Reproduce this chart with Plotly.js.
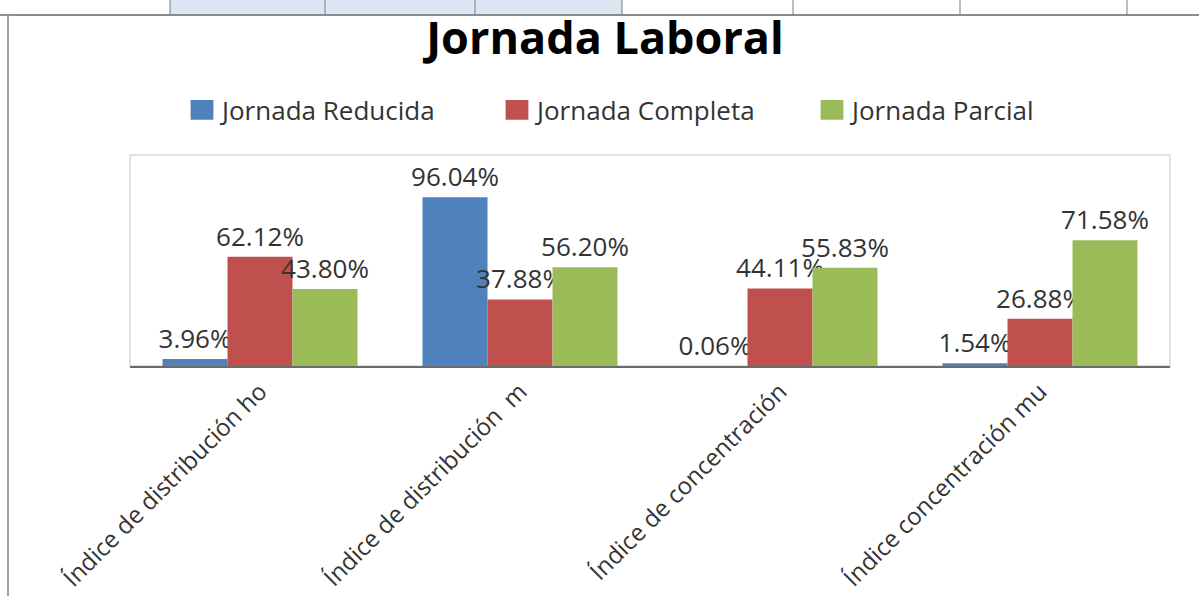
<!DOCTYPE html>
<html>
<head>
<meta charset="utf-8">
<script src="https://cdn.plot.ly/plotly-3.0.1.min.js"></script>
<style>html,body{margin:0;padding:0;background:#fff;}#chart{width:1199px;height:596px;}</style>
</head>
<body>
<div id="chart"></div>
<script>
const categories = ["Índice de distribución ho", "Índice de distribución  m", "Índice de concentración", "Índice concentración mu"];
const seriesNames = ["Jornada Reducida", "Jornada Completa", "Jornada Parcial"];
const reducida = [3.96, 96.04, 0.06, 1.54];
const completa = [62.12, 37.88, 44.11, 26.88];
const parcial = [43.80, 56.20, 55.83, 71.58];
const colors = ["#4F81BD", "#C0504D", "#9BBB59"];

const FONT = "Open Sans, sans-serif";
const values = [reducida, completa, parcial];
const traces = values.map((v, i) => ({
  type: "bar",
  name: seriesNames[i],
  x: categories,
  y: v,
  marker: {color: colors[i]},
  text: v.map(d => d.toFixed(2) + "%"),
  texttemplate: "%{text}",
  textposition: "outside",
  constraintext: "none",
  cliponaxis: false,
  textfont: {family: FONT, size: 26, color: "#333333"},
  hoverinfo: "x+y"
}));

// plot-area geometry (px) used only to place decorative frame shapes
const L = 130, R = 29, T = 155, B = 230, W = 1199, H = 596;
const PW = W - L - R, PH = H - T - B;
const px = x => (x - L) / PW;
const py = y => (H - B - y) / PH;

const layout = {
  width: W, height: H,
  margin: {l: L, r: R, t: T, b: B},
  paper_bgcolor: "#ffffff",
  plot_bgcolor: "#ffffff",
  font: {family: FONT, color: "#333333"},
  title: {text: "<b>Jornada Laboral</b>", font: {family: FONT, size: 45, color: "#000000"},
          x: 605 / W, xanchor: "center", xref: "container", y: 1 - 38 / H, yanchor: "middle", yref: "container"},
  barmode: "group",
  bargap: 0.25,
  bargroupgap: 0,
  showlegend: true,
  legend: {orientation: "h", xref: "container", x: 182 / W, xanchor: "left", y: 1 - 110 / H, yanchor: "middle", yref: "container",
           font: {family: FONT, size: 26, color: "#333333"}, entrywidth: 270, entrywidthmode: "pixels",
           itemwidth: 30, traceorder: "normal", bgcolor: "rgba(0,0,0,0)"},
  xaxis: {
    tickangle: -45,
    tickfont: {family: FONT, size: 24, color: "#333333"},
    showline: true, linecolor: "#6b6b6b", linewidth: 2,
    ticks: "", showgrid: false, zeroline: false
  },
  yaxis: {range: [0, 120], visible: false, showgrid: false, zeroline: false, fixedrange: true},
  shapes: [
    {type: "rect", xref: "paper", yref: "paper", x0: 0, x1: 1, y0: 0, y1: 1, line: {color: "#D9D9D9", width: 1.5}, layer: "below"},
    {type: "rect", xref: "paper", yref: "paper", x0: px(170), x1: px(622), y0: py(15), y1: py(0), fillcolor: "#DCE6F2", line: {width: 0}, layer: "below"},
    {type: "line", xref: "paper", yref: "paper", x0: px(0), x1: px(W), y0: py(15), y1: py(15), line: {color: "#8c8c8c", width: 2}},
    {type: "line", xref: "paper", yref: "paper", x0: px(8), x1: px(8), y0: py(H), y1: py(15), line: {color: "#a0a0a0", width: 2}},
    ...[170, 325, 475, 622, 793, 960, 1127].map(x => ({type: "line", xref: "paper", yref: "paper", x0: px(x), x1: px(x), y0: py(15), y1: py(0), line: {color: "#7a7a7a", width: 1}}))
  ]
};

Plotly.newPlot("chart", traces, layout, {displayModeBar: false, staticPlot: true}).then(() => {
  // enlarge legend swatches to match the reference's bigger squares
  document.querySelectorAll("#chart .legend .legendpoints path").forEach(p => {
    const t = p.getAttribute("transform") || "";
    p.setAttribute("transform", t + " scale(1.9,1.65)");
  });
});
</script>
</body>
</html>
